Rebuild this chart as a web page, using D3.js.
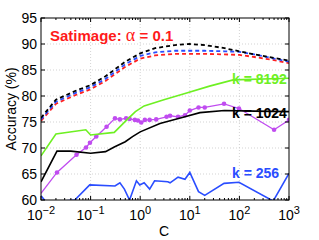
<!DOCTYPE html>
<html>
<head>
<meta charset="utf-8">
<script src="https://cdn.jsdelivr.net/npm/d3@7"></script>
<style>
  body { margin: 0; background: #fff; }
  svg { display: block; font-family: "Liberation Sans", Arial, sans-serif; }
</style>
</head>
<body>
<svg id="chart" width="319" height="240"></svg>
<script>
// C values for the three dashed (full) curves
const cDense = [0.01, 0.02, 0.05, 0.1, 0.2, 0.5, 1, 2, 5, 10, 20, 50, 100, 200, 500, 1000];
const blackDashed = [75.8, 79.3, 81, 82.1, 83.8, 86.6, 88.2, 89.2, 89.8, 90, 89.8, 89.2, 88.6, 88, 87.3, 86.8];
const blueDashed  = [75.5, 78.9, 80.6, 81.7, 83.3, 86.1, 87.7, 88.4, 88.7, 88.7, 88.7, 88.6, 88.5, 88, 87.2, 86.6];
const redDashed   = [75.2, 78.5, 80.2, 81.3, 82.9, 85.6, 87.2, 87.8, 88.1, 88.1, 88.1, 88, 87.9, 87.5, 86.9, 86.3];

// k = 8192
const cGreen = [0.01, 0.02, 0.08, 0.1, 0.3, 0.55, 0.8, 1.2, 3, 8, 25, 75, 1000];
const green  = [68.5, 72.7, 73.5, 72.5, 73, 75.5, 77, 78.1, 79.3, 80.5, 81.9, 83.1, 83.4];

// k = 1024
const cBlack = [0.01, 0.021, 0.04, 0.1, 0.2, 0.3, 0.5, 0.7, 1, 2.5, 8, 16, 50, 200, 1000];
const black  = [63.5, 69.4, 69.4, 69.0, 69.3, 70.2, 71.2, 72.2, 73.1, 74.7, 76, 76.8, 77.2, 77.1, 77.0];

// purple with markers (first point has no marker)
const cPurple = [0.01, 0.021, 0.052, 0.081, 0.097, 0.13, 0.21, 0.31, 0.39, 0.52, 0.61, 0.78, 0.9, 1.05, 1.24, 1.55, 2.1, 3.4, 4, 5.8, 8, 10, 15, 20, 49, 98, 500, 1000];
const purple  = [61.3, 65.3, 68.7, 70.1, 71, 72.2, 74.1, 75.7, 75.5, 75.7, 75.6, 75.4, 75.3, 74.9, 75.4, 75.4, 75.5, 76.0, 76.2, 76.0, 76.3, 77.2, 77.8, 77.8, 78.5, 77.6, 73.5, 75.4];

// k = 256
const cBlue = [0.01, 0.013, 0.048, 0.096, 0.31, 0.39, 0.48, 0.61, 0.84, 0.98, 1.2, 1.55, 1.95, 3.6, 4, 5.8, 8, 10, 15, 20, 49, 98, 480, 1000];
const blue  = [60.8, 59.5, 60, 62.9, 62.7, 63.3, 62.1, 60, 63.7, 62.9, 63.3, 62.1, 63.7, 63.5, 63.3, 64.4, 64, 65.3, 61.6, 60.9, 63.2, 63.4, 59.8, 65.1];

const yTicks = [60, 65, 70, 75, 80, 85, 90, 95];
const xExps = [-2, -1, 0, 1, 2, 3];

const W = 319, H = 240;
const margin = {top: 18, right: 30, bottom: 40, left: 41};

const svg = d3.select("#chart");
const x = d3.scaleLog().domain([0.01, 1000]).range([margin.left, W - margin.right]);
const y = d3.scaleLinear().domain([60, 95]).range([H - margin.bottom, margin.top]);

svg.append("defs").append("clipPath").attr("id", "clip")
  .append("rect")
  .attr("x", margin.left).attr("y", margin.top)
  .attr("width", W - margin.left - margin.right)
  .attr("height", H - margin.top - margin.bottom);

// grid
const grid = svg.append("g").attr("stroke", "#c8c8c8").attr("stroke-width", 0.8).attr("stroke-dasharray", "1,2");
grid.selectAll(".gx").data(xExps.slice(1, -1)).join("line")
  .attr("x1", d => x(Math.pow(10, d))).attr("x2", d => x(Math.pow(10, d)))
  .attr("y1", margin.top).attr("y2", H - margin.bottom);
grid.selectAll(".gy").data(yTicks.slice(1, -1)).join("line")
  .attr("y1", d => y(d)).attr("y2", d => y(d))
  .attr("x1", margin.left).attr("x2", W - margin.right);

const line = (xs, ys) => d3.line().x((d, i) => x(xs[i])).y(d => y(d))(ys);
const plot = svg.append("g").attr("clip-path", "url(#clip)").attr("fill", "none");

plot.append("path").attr("d", line(cBlue, blue)).attr("stroke", "#2a4dff").attr("stroke-width", 1.6);
plot.append("path").attr("d", line(cPurple, purple)).attr("stroke", "#c04cf0").attr("stroke-width", 1.3);
plot.selectAll("circle").data(purple.slice(1)).join("circle")
  .attr("cx", (d, i) => x(cPurple[i + 1])).attr("cy", d => y(d))
  .attr("r", 2.3).attr("fill", "#c04cf0");
plot.append("path").attr("d", line(cBlack, black)).attr("stroke", "#000").attr("stroke-width", 1.6);
plot.append("path").attr("d", line(cGreen, green)).attr("stroke", "#6ef023").attr("stroke-width", 1.6);

plot.append("path").attr("d", line(cDense, redDashed)).attr("stroke", "#ff2020").attr("stroke-width", 1.8).attr("stroke-dasharray", "4,3");
plot.append("path").attr("d", line(cDense, blueDashed)).attr("stroke", "#2a4dff").attr("stroke-width", 1.8).attr("stroke-dasharray", "4,3");
plot.append("path").attr("d", line(cDense, blackDashed)).attr("stroke", "#000").attr("stroke-width", 1.8).attr("stroke-dasharray", "4,3");

// box and ticks
const ax = svg.append("g").attr("stroke", "#000").attr("fill", "none");
ax.append("rect").attr("x", margin.left).attr("y", margin.top)
  .attr("width", W - margin.left - margin.right).attr("height", H - margin.top - margin.bottom)
  .attr("stroke-width", 1);

const minorTicks = [];
xExps.slice(0, -1).forEach(e => { for (let m = 2; m < 10; m++) minorTicks.push(m * Math.pow(10, e)); });
const yb = H - margin.bottom, yt = margin.top;
minorTicks.forEach(v => {
  ax.append("line").attr("x1", x(v)).attr("x2", x(v)).attr("y1", yb).attr("y2", yb - 2);
  ax.append("line").attr("x1", x(v)).attr("x2", x(v)).attr("y1", yt).attr("y2", yt + 2);
});
xExps.forEach(e => {
  const v = Math.pow(10, e);
  ax.append("line").attr("x1", x(v)).attr("x2", x(v)).attr("y1", yb).attr("y2", yb - 4);
  ax.append("line").attr("x1", x(v)).attr("x2", x(v)).attr("y1", yt).attr("y2", yt + 4);
});
yTicks.forEach(t => {
  ax.append("line").attr("x1", margin.left).attr("x2", margin.left + 4).attr("y1", y(t)).attr("y2", y(t));
  ax.append("line").attr("x1", W - margin.right).attr("x2", W - margin.right - 4).attr("y1", y(t)).attr("y2", y(t));
});

// tick labels
svg.append("g").selectAll("text").data(yTicks).join("text")
  .attr("x", margin.left - 4).attr("y", d => y(d) + 5)
  .attr("text-anchor", "end").attr("font-size", 14).text(d => d);

const xl = svg.append("g").selectAll("text").data(xExps).join("text")
  .attr("x", d => x(Math.pow(10, d))).attr("y", 220)
  .attr("text-anchor", "middle").attr("font-size", 14);
xl.append("tspan").text("10");
xl.append("tspan").attr("dy", -6).attr("font-size", 11).text(d => d < 0 ? "\u2212" + (-d) : d);

svg.append("text").attr("x", 164).attr("y", 236).attr("text-anchor", "middle").attr("font-size", 14).text("C");
svg.append("text").attr("transform", `translate(16,${(margin.top + H - margin.bottom) / 2}) rotate(-90)`)
  .attr("text-anchor", "middle").attr("font-size", 14).text("Accuracy (%)");

// annotations
const title = svg.append("text").attr("x", 50).attr("y", 41).attr("font-size", 15)
  .attr("font-weight", "bold").attr("fill", "#ff1a1a");
title.append("tspan").text("Satimage: ");
title.append("tspan").attr("font-family", "Liberation Serif, serif").attr("font-weight", "normal").attr("font-size", 18).text("\u03b1");
title.append("tspan").text(" = 0.1");

svg.append("text").attr("x", 232).attr("y", 84).attr("font-size", 14).attr("font-weight", "bold").attr("fill", "#6ef023").text("k = 8192");
svg.append("text").attr("x", 232).attr("y", 118).attr("font-size", 14).attr("font-weight", "bold").attr("fill", "#000").text("k = 1024");
svg.append("text").attr("x", 232).attr("y", 178).attr("font-size", 14).attr("font-weight", "bold").attr("fill", "#2a4dff").text("k = 256");
</script>
</body>
</html>
